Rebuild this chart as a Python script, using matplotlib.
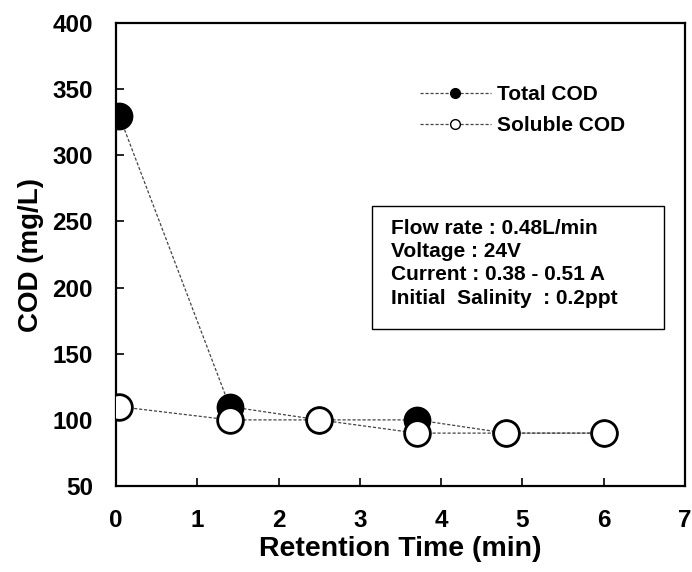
import matplotlib
matplotlib.use('Agg')
from matplotlib import pyplot as plt
from matplotlib.lines import Line2D
from matplotlib.patches import Rectangle

plt.rcParams['font.family'] = ['Liberation Sans', 'DejaVu Sans']
plt.rcParams['font.weight'] = 'bold'

# data
time_min = [0.04, 1.4, 2.5, 3.7, 4.8, 6.0]
total_cod = [330, 110, 100, 100, 90, 90]
soluble_cod = [110, 100, 100, 90, 90, 90]

x_ticks = [0, 1, 2, 3, 4, 5, 6, 7]
y_ticks = [50, 100, 150, 200, 250, 300, 350, 400]

info_lines = ['Flow rate : 0.48L/min',
              'Voltage : 24V',
              'Current : 0.38 - 0.51 A',
              'Initial  Salinity  : 0.2ppt']

fig = plt.figure(figsize=(6.92, 5.72), dpi=100)
ax = fig.add_axes([0.1676, 0.1503, 0.8223, 0.8094])

line_kw = dict(color='#444444', linestyle=(0, (2.5, 1.5)), linewidth=0.9)
ax.plot(time_min, total_cod, marker='o', markersize=18.5, markerfacecolor='black',
        markeredgecolor='black', markeredgewidth=1.5, zorder=3, **line_kw)
ax.plot(time_min, soluble_cod, marker='o', markersize=18.5, markerfacecolor='white',
        markeredgecolor='black', markeredgewidth=2.0, zorder=4, **line_kw)

ax.set_xlim(0, 7)
ax.set_ylim(50, 400)
ax.set_xticks(x_ticks)
ax.set_yticks(y_ticks)
ax.tick_params(axis='both', direction='in', length=6, width=1.2, labelsize=17.5, pad=16.5)
for s in ax.spines.values():
    s.set_linewidth(1.6)

ax.set_xlabel('Retention Time (min)', fontsize=20.5, fontweight='bold', labelpad=3)
ax.set_ylabel('COD (mg/L)', fontsize=20, fontweight='bold', labelpad=6)

# legend
handles = [
    Line2D([], [], marker='o', markersize=7, markerfacecolor='black',
           markeredgecolor='black', **line_kw),
    Line2D([], [], marker='o', markersize=7, markerfacecolor='white',
           markeredgecolor='black', markeredgewidth=1.0, **line_kw),
]
ax.legend(handles, ['Total COD', 'Soluble COD'], loc='center left',
          bbox_to_anchor=(0.534, 0.812), frameon=False, fontsize=15,
          handlelength=3.4, handletextpad=0.3, labelspacing=0.6,
          borderpad=0, borderaxespad=0)

# condition box
ax.add_patch(Rectangle((0.45, 0.339), 0.513, 0.266, transform=ax.transAxes,
                       facecolor='white', edgecolor='black', linewidth=1.0, zorder=5))
ax.text(0.484, 0.576, '\n'.join(info_lines), transform=ax.transAxes,
        fontsize=15, fontweight='bold', va='top', ha='left', linespacing=1.27,
        zorder=6)

fig.savefig('out.png', dpi=100)
